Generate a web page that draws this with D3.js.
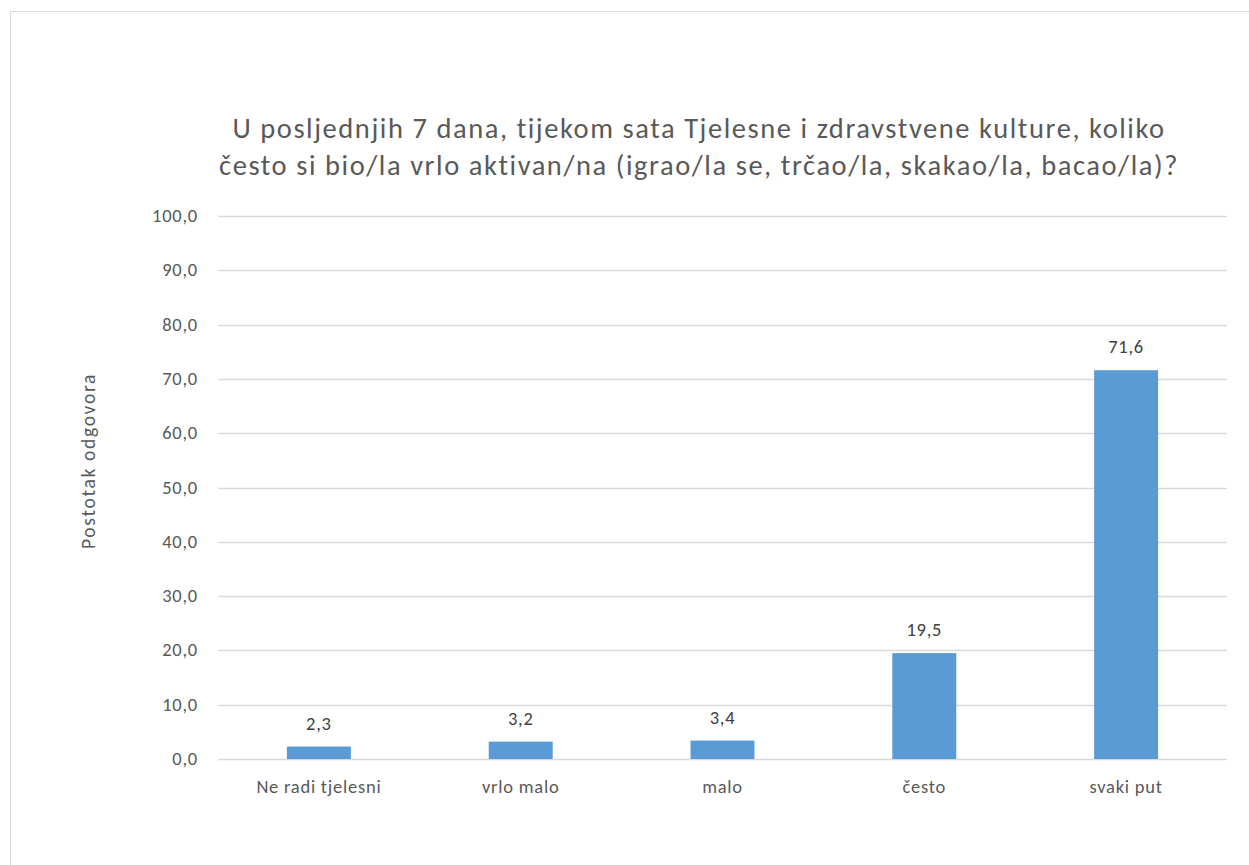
<!DOCTYPE html>
<html><head><meta charset="utf-8">
<script src="https://cdn.jsdelivr.net/npm/d3@7"></script>
<style>body{margin:0;background:#fff;} text{font-family:Carlito, Lato, "Open Sans", sans-serif;}</style>
</head><body>
<svg id="c" width="1249" height="865"></svg>
<script>
const categories = ["Ne radi tjelesni", "vrlo malo", "malo", "često", "svaki put"];
const values = [2.3, 3.2, 3.4, 19.5, 71.6];
const yTicks = [0, 10, 20, 30, 40, 50, 60, 70, 80, 90, 100];
const titleLines = ["U posljednjih 7 dana, tijekom sata Tjelesne i zdravstvene kulture, koliko", "često si bio/la vrlo aktivan/na (igrao/la se, trčao/la, skakao/la, bacao/la)?"];
const yTitle = "Postotak odgovora";

(function(){
const svg = d3.select("#c");
svg.append("rect").attr("x",10.5).attr("y",11.5).attr("width",1250).attr("height",870)
  .attr("fill","#fff").attr("stroke","#d9d9d9");

// letter-spacing helper: widen text so a sample string hits a measured width
function spacingFor(sample, size, target){
  const t = svg.append("text").attr("font-size",size).text(sample);
  const w = t.node().getComputedTextLength(); t.remove();
  return (target - w) / sample.length;
}
const labelSize = 18.5, titleSize = 28.5, axisTitleSize = 19.5;
const labelLS = spacingFor("Ne radi tjelesni", labelSize, 125);
const titleLS = spacingFor(titleLines[0], titleSize, 933);
const axisLS = spacingFor(yTitle, axisTitleSize, 176);

const pL=218, pR=1227, pT=216, pB=759;
const x = d3.scaleBand().domain(categories).range([pL,pR]).paddingInner(0.683).paddingOuter(0.3415);
const y = d3.scaleLinear().domain([0,100]).range([pB,pT]);
const fmt = v => d3.format(".1f")(v).replace(".",",");

svg.append("g").selectAll("line").data(yTicks).join("line")
  .attr("x1",pL).attr("x2",pR).attr("y1",d=>Math.round(y(d))+0.5).attr("y2",d=>Math.round(y(d))+0.5)
  .attr("stroke","#d9d9d9").attr("stroke-width",1.3);

svg.append("g").selectAll("text").data(yTicks).join("text")
  .attr("x",198).attr("y",d=>y(d)+6).attr("text-anchor","end")
  .attr("font-size",labelSize).attr("letter-spacing",labelLS).attr("fill","#595959").text(fmt);

svg.append("g").selectAll("rect").data(values).join("rect")
  .attr("x",(d,i)=>x(categories[i])).attr("width",x.bandwidth())
  .attr("y",d=>y(d)).attr("height",d=>pB-y(d)).attr("fill","#5b9bd5");

svg.append("g").selectAll("text").data(values).join("text")
  .attr("x",(d,i)=>x(categories[i])+x.bandwidth()/2).attr("y",d=>y(d)-17)
  .attr("text-anchor","middle").attr("font-size",labelSize).attr("letter-spacing",labelLS).attr("fill","#404040").text(fmt);

svg.append("g").selectAll("text").data(categories).join("text")
  .attr("x",d=>x(d)+x.bandwidth()/2).attr("y",793)
  .attr("text-anchor","middle").attr("font-size",labelSize).attr("letter-spacing",labelLS).attr("fill","#595959").text(d=>d);

svg.append("text").attr("transform","translate(95,461) rotate(-90)")
  .attr("text-anchor","middle").attr("font-size",axisTitleSize).attr("letter-spacing",axisLS).attr("fill","#595959").text(yTitle);

svg.append("g").selectAll("text").data(titleLines).join("text")
  .attr("x",699).attr("y",(d,i)=>138+i*37).attr("text-anchor","middle")
  .attr("font-size",titleSize).attr("letter-spacing",titleLS).attr("fill","#595959").text(d=>d);
})();
</script>
</body></html>
